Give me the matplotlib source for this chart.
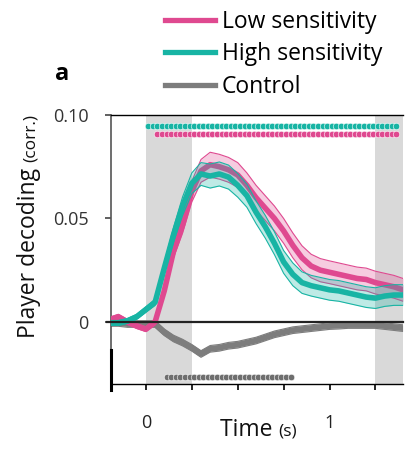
import numpy as np
import matplotlib
matplotlib.use("Agg")
import matplotlib.pyplot as plt
from matplotlib.lines import Line2D

plt.rcParams["font.family"] = ["Open Sans", "DejaVu Sans"]

W, H = 406, 450

# decoding time courses (s, correlation), group mean and SEM
time_s = np.round(np.arange(-0.2, 1.401, 0.05), 2)
low_mean = [0.001, 0.0025, 0.0, -0.002, -0.0035, 0.0, 0.015, 0.034, 0.047, 0.063,
            0.073, 0.076, 0.075, 0.0735, 0.071, 0.066, 0.060, 0.055, 0.050, 0.044,
            0.037, 0.031, 0.027, 0.025, 0.024, 0.023, 0.022, 0.021, 0.0205, 0.019,
            0.018, 0.017, 0.0155]
low_sem = [0.0012, 0.0012, 0.0012, 0.0012, 0.0012, 0.0015, 0.002, 0.003, 0.004, 0.005,
           0.0055, 0.006, 0.006, 0.006, 0.006, 0.006, 0.006, 0.006, 0.006, 0.006,
           0.006, 0.0058, 0.0057, 0.0056, 0.0055, 0.0055, 0.0055, 0.0055, 0.0055, 0.0055,
           0.0055, 0.0055, 0.0055]
high_mean = [-0.0005, -0.0005, 0.0005, 0.0025, 0.006, 0.0095, 0.026, 0.042, 0.056, 0.067,
             0.0715, 0.0705, 0.0715, 0.070, 0.066, 0.061, 0.053, 0.046, 0.038, 0.029,
             0.023, 0.019, 0.0175, 0.0165, 0.0155, 0.015, 0.014, 0.013, 0.012, 0.0115,
             0.0125, 0.013, 0.013]
high_sem = [0.0012, 0.0012, 0.0012, 0.0012, 0.0013, 0.0015, 0.0025, 0.0035, 0.0045, 0.005,
            0.0055, 0.0058, 0.0058, 0.0058, 0.0057, 0.0056, 0.0055, 0.0055, 0.0055, 0.0055,
            0.0055, 0.0052, 0.005, 0.005, 0.005, 0.005, 0.005, 0.005, 0.005, 0.005,
            0.005, 0.005, 0.005]
ctrl_mean = [-0.0005, -0.0005, -0.001, -0.001, -0.001, -0.001, -0.005, -0.008, -0.010, -0.0125,
             -0.0155, -0.013, -0.0125, -0.0115, -0.011, -0.010, -0.009, -0.0075, -0.006, -0.005,
             -0.004, -0.0035, -0.003, -0.0025, -0.002, -0.0018, -0.0015, -0.0015, -0.0015, -0.0015,
             -0.002, -0.0025, -0.003]
ctrl_sem = [0.0016] * len(time_s)

# significant clusters (first and last bin centre, 25 ms bins)
sig_step = 0.025
low_sig = (0.0625, 1.3625)
high_sig = (0.0125, 1.3625)
ctrl_sig = (0.1125, 0.7875)

PINK = "#DF4990"
TEAL = "#18B4A4"
GREY = "#7d7d7d"


def fx(px):
    return px / W


def fy(py):
    return 1 - py / H


def draw_series(ax, mean, sem, color, lw, z, fill_alpha=0.28):
    mean = np.asarray(mean)
    sem = np.asarray(sem)
    lo, hi = mean - sem, mean + sem
    ax.fill_between(time_s, lo, hi, color=color, alpha=fill_alpha, lw=0, zorder=z)
    ax.plot(time_s, lo, color=color, lw=0.8, zorder=z)
    ax.plot(time_s, hi, color=color, lw=0.8, zorder=z)
    ax.plot(time_s, mean, color=color, lw=lw, zorder=z + 0.5, solid_joinstyle="round")


def draw_sig(ax, span, y, color):
    t = np.arange(span[0], span[1] + sig_step / 2, sig_step)
    ax.plot(t, np.full_like(t, y), ls="none", marker="o", ms=4.7, color=color,
            mec="white", mew=0.4, zorder=6, clip_on=False)


fig = plt.figure(figsize=(W / 100, H / 100), dpi=100)
ax = fig.add_axes([fx(111), fy(384), fx(403) - fx(111), fy(115) - fy(384)])
ax.set_xlim(-0.19, 1.4)
ax.set_ylim(-0.03, 0.10)

ax.axvspan(0, 0.25, color="#d9d9d9", lw=0, zorder=0)
ax.axvspan(1.25, 1.4, color="#d9d9d9", lw=0, zorder=0)

draw_series(ax, ctrl_mean, ctrl_sem, GREY, 4.2, 2, fill_alpha=0.12)
draw_series(ax, low_mean, low_sem, PINK, 4.0, 3)
draw_series(ax, high_mean, high_sem, TEAL, 4.0, 4)

ax.plot([-0.212, 1.4], [0, 0], color="#222222", lw=1.6, zorder=5, clip_on=False)

draw_sig(ax, high_sig, 0.0947, TEAL)
draw_sig(ax, low_sig, 0.0908, PINK)
draw_sig(ax, ctrl_sig, -0.0266, "#6e6e6e")

# axes frame
ax.spines["right"].set_visible(False)
ax.spines["top"].set_linewidth(1.0)
ax.spines["bottom"].set_linewidth(1.0)
ax.spines["left"].set_color("#555555")
ax.spines["left"].set_linewidth(1.2)
ax.plot([-0.19, -0.19], [-0.0135, -0.033], color="black", lw=2.2, zorder=7, clip_on=False)

ax.set_yticks([0, 0.05, 0.10])
ax.set_yticklabels(["0", "0.05", "0.10"])
ax.set_xticks([0, 0.25, 0.5, 0.75, 1.0, 1.25])
ax.set_xticklabels(["0", "", "", "", "1", ""])
ax.tick_params(axis="y", direction="out", length=4, width=1.2, colors="#444444",
               labelcolor="#333333", labelsize=13, pad=12)
ax.tick_params(axis="x", direction="out", length=4.5, width=1.2, colors="black",
               labelcolor="#222222", labelsize=13, pad=17)

# axis labels with smaller unit text
fig.canvas.draw()
renderer = fig.canvas.get_renderer()

t1 = fig.text(fx(220), fy(436), "Time ", fontsize=16.5, color="#111111",
              ha="left", va="baseline")
bb = t1.get_window_extent(renderer)
fig.text(bb.x1 / W, fy(436), "(s)", fontsize=12.5, color="#111111",
         ha="left", va="baseline")

y1 = fig.text(fx(35), fy(338), "Player decoding ", fontsize=16.5, color="#111111",
              rotation=90, rotation_mode="anchor", ha="left", va="baseline")
bb = y1.get_window_extent(renderer)
fig.text(fx(35), bb.y1 / H, "(corr.)", fontsize=12.5, color="#111111",
         rotation=90, rotation_mode="anchor", ha="left", va="baseline")

fig.text(fx(62), fy(80), "a", fontsize=17, fontweight="bold", ha="center", va="baseline")

handles = [Line2D([], [], color=PINK, lw=3.8),
           Line2D([], [], color=TEAL, lw=3.8),
           Line2D([], [], color=GREY, lw=3.8)]
fig.legend(handles, ["Low sensitivity", "High sensitivity", "Control"],
           loc="upper left", bbox_to_anchor=(fx(160), fy(5)), frameon=False,
           fontsize=16.5, handlelength=2.2, handletextpad=0.3, labelspacing=0.38,
           borderpad=0.2, borderaxespad=0)

fig.savefig("out.png", dpi=100)
